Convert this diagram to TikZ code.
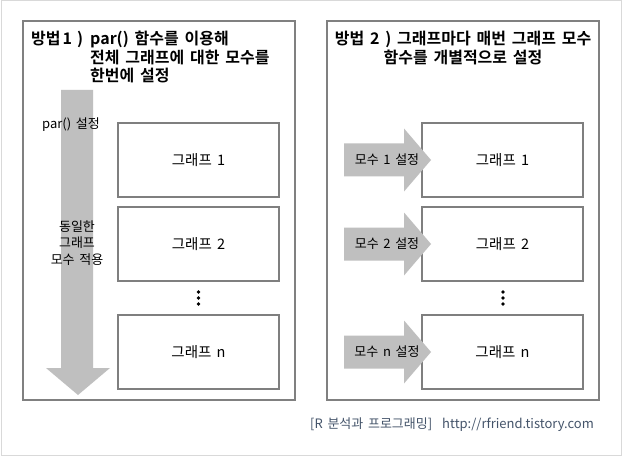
\documentclass[tikz,border=0pt]{standalone}
\usepackage{fontspec}
\setmainfont{Noto Sans CJK KR}[BoldFont={Noto Sans CJK KR Bold},WordSpace=1.6]
\begin{document}
\begin{tikzpicture}[x=1pt,y=-1pt,
  panel/.style={draw=panelgray,line width=1.2pt},
  gbox/.style={draw=boxgray,line width=1.1pt,fill=white,minimum width=161pt,minimum height=74pt,inner sep=0pt,font=\fontsize{14.5}{17}\selectfont},
  ttl/.style={inner sep=0pt,font=\fontsize{16}{19}\selectfont\bfseries},
  lbl/.style={inner sep=0pt,font=\fontsize{13}{16.5}\selectfont,align=center},
  dot/.style={circle,fill=black,inner sep=0pt,minimum size=3.6pt}]
\definecolor{panelgray}{HTML}{808080}
\definecolor{boxgray}{HTML}{7F7F7F}
\definecolor{arrowgray}{HTML}{BFBFBF}
\definecolor{outergray}{HTML}{D9D9D9}
\definecolor{footblue}{HTML}{44546A}
\useasboundingbox (0,0) rectangle (623,457);
\fill[white] (0,0) rectangle (623,457);
\draw[outergray,line width=1pt] (1,1) rectangle (621.5,455.5);
% panels
\draw[panel] (23,21) rectangle (295,400);
\draw[panel] (327,21) rectangle (599,400);
% left title
\node[ttl,anchor=base west] (t1a) at (31,45) {방법\hspace{2pt}1\hspace{5pt})};
\node[ttl,anchor=base west] (t1b) at (90,45) {par() 함수를 이용해};
\node[ttl,anchor=base west] (t1c) at (90,64) {전체 그래프에 대한 모수를};
\node[ttl,anchor=base west] (t1d) at (90,82) {한번에 설정};
% right title
\node[ttl,anchor=base] (t2a) at (463,45) {방법 2 ) 그래프마다 매번 그래프 모수};
\node[ttl,anchor=base] (t2b) at (463,64) {함수를 개별적으로 설정};
% left arrow
\fill[arrowgray] (61,90) -- (93,90) -- (93,368) -- (110,368) -- (78,395) -- (46,368) -- (61,368) -- cycle;
% left boxes
\node[gbox] (l1) at (198.5,160) {그래프 1};
\node[gbox] (l2) at (198.5,244) {그래프 2};
\node[gbox] (ln) at (198.5,352) {그래프 n};
\node[dot] (ld1) at (198.5,292) {};
\node[dot] (ld2) at (198.5,298) {};
\node[dot] (ld3) at (198.5,304) {};
\node[lbl] (lp) at (71,125) {par() 설정};
\node[lbl] (lsame) at (77,243) {동일한\\그래프\\모수 적용};
% right boxes
\node[gbox] (r1) at (502.5,160) {그래프 1};
\node[gbox] (r2) at (502.5,244) {그래프 2};
\node[gbox] (rn) at (502.5,352) {그래프 n};
\node[dot] (rd1) at (503,292) {};
\node[dot] (rd2) at (503,298) {};
\node[dot] (rd3) at (503,304) {};
% right arrows
\foreach \c/\t/\nm in {160/1/a1,244/2/a2,352/n/an}{
  \fill[arrowgray] (344,\c-16.5) -- (404,\c-16.5) -- (404,\c-31.5) -- (431,\c) -- (404,\c+31.5) -- (404,\c+16.5) -- (344,\c+16.5) -- cycle;
  \node[lbl] (\nm) at (387,\c) {모수 \t{} 설정};
}
% footer
\node[inner sep=0pt,anchor=base west,text=footblue,font=\fontsize{13}{15}\selectfont] (foot) at (310,428) {[R 분석과 프로그래밍]\hspace{10pt}http://rfriend.tistory.com};
\end{tikzpicture}
\end{document}
